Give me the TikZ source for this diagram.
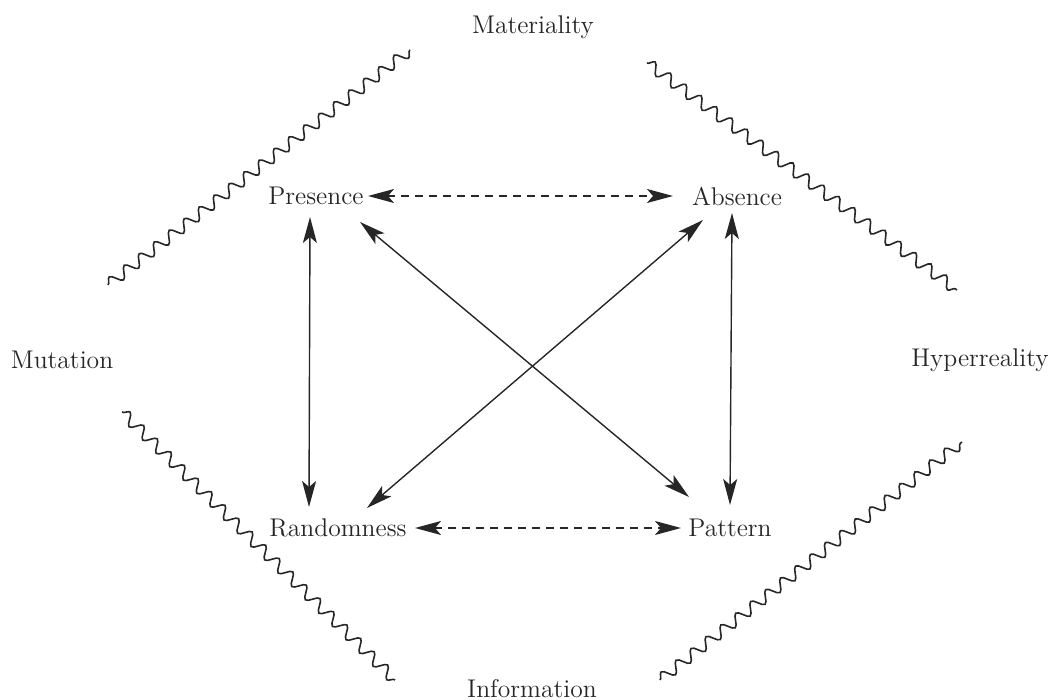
\documentclass[tikz,border=0pt]{standalone}
\usetikzlibrary{arrows.meta,calc,decorations.pathmorphing}
\begin{document}
\begin{tikzpicture}[x=0.5pt,y=-0.5pt,
  lbl/.style={inner sep=0pt,font=\fontsize{12.8}{15}\selectfont,text=black!85},
  conn/.style={line width=0.7pt,draw=black!85,{Stealth[length=13pt,width=7pt,inset=3pt]}-{Stealth[length=13pt,width=7pt,inset=3pt]}},
  dashconn/.style={conn,dash pattern=on 4pt off 3pt},
  wave/.style={line width=0.8pt,draw=black!85,decorate,decoration={snake,amplitude=2.8pt,segment length=9.5pt}}]
\useasboundingbox (0,0) rectangle (1051,700);
% labels
\node[lbl] (mat) at (533,27) {Materiality};
\node[lbl] (inf) at (532,689) {Information};
\node[lbl] (mut) at (62,360) {Mutation};
\node[lbl] (hyp) at (980,360) {Hyperreality};
\node[lbl] (P) at (316,196) {Presence};
\node[lbl] (A) at (737,196) {Absence};
\node[lbl] (R) at (338,528) {Randomness};
\node[lbl] (Pt) at (730,528) {Pattern};
% connectors
\draw[dashconn] ($(P.center)+(52,0)$) -- ($(A.center)+(-64,0)$);
\draw[dashconn] ($(R.center)+(77,0)$) -- ($(Pt.center)+(-49,0)$);
\draw[conn] ($(P.center)+(-6,21)$) -- ($(R.center)+(-29,-21)$);
\draw[conn] ($(A.center)+(-5,17)$) -- ($(Pt.center)+(0,-23)$);
\draw[conn] ($(P.center)+(44,26)$) -- ($(Pt.center)+(-41,-31)$);
\draw[conn] ($(A.center)+(-34,24)$) -- ($(R.center)+(29,-20)$);
% wavy borders
\coordinate (tl1) at (108,285); \coordinate (tl2) at (410,50);
\coordinate (tr1) at (647,63);  \coordinate (tr2) at (957,290);
\coordinate (bl1) at (122,412); \coordinate (bl2) at (395,680);
\coordinate (br1) at (660,680); \coordinate (br2) at (962,442);
\draw[wave] (tl1) -- (tl2);
\draw[wave] (tr1) -- (tr2);
\draw[wave] (bl1) -- (bl2);
\draw[wave] (br1) -- (br2);
\end{tikzpicture}
\end{document}
